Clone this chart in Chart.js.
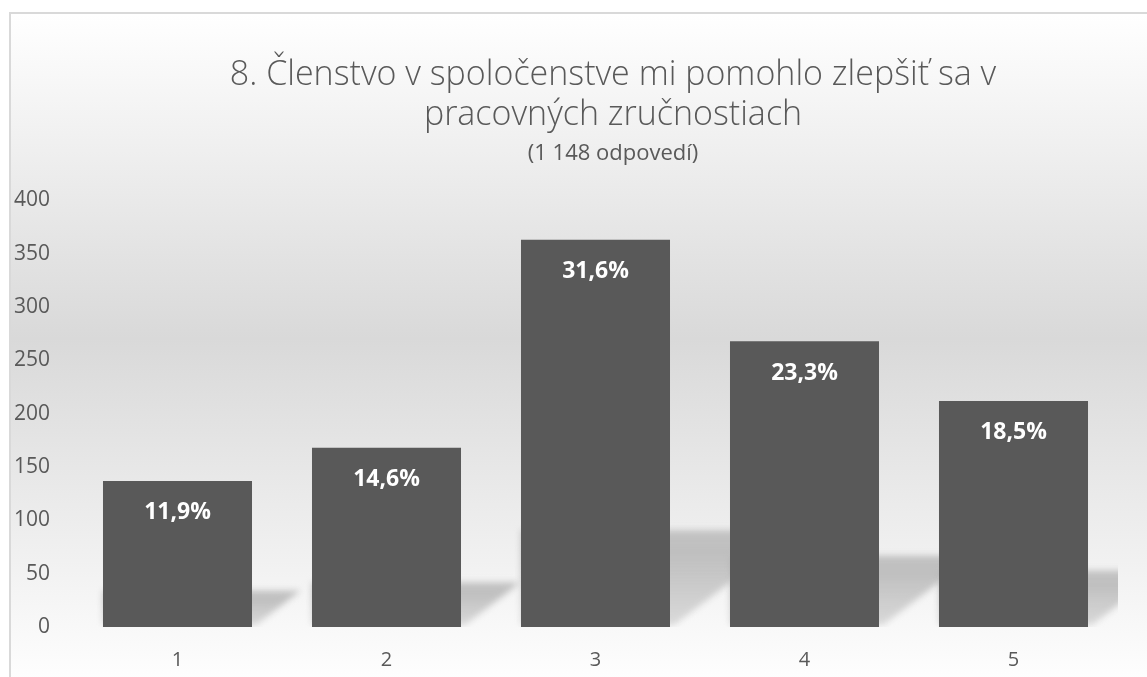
<!DOCTYPE html>
<html>
<head>
<meta charset="utf-8">
<script src="https://cdn.jsdelivr.net/npm/chart.js@4.4.1/dist/chart.umd.min.js"></script>
<style>
  html, body { margin: 0; padding: 0; width: 1147px; height: 677px; overflow: hidden; background: #ffffff; }
  #frame {
    position: absolute; left: 9px; top: 12px; width: 1210px; height: 680px;
    border: 2px solid #d9d9d9; box-sizing: border-box;
    background: linear-gradient(#ffffff 0%, #d9d9d9 48%, #ffffff 100%);
  }
  #c { position: absolute; left: 11px; top: 14px; }
</style>
</head>
<body>
<div id="frame"></div>
<canvas id="c" width="1204" height="663"></canvas>
<script>
const categories = ['1', '2', '3', '4', '5'];
const counts = [137, 168, 363, 268, 212];
const percentLabels = ['11,9%', '14,6%', '31,6%', '23,3%', '18,5%'];
const yTicks = [0, 50, 100, 150, 200, 250, 300, 350, 400];
const titleLines = ['8. Členstvo v spoločenstve mi pomohlo zlepšiť sa v', 'pracovných zručnostiach'];
const subtitleText = '(1 148 odpovedí)';

const FONT = "'Open Sans', 'DejaVu Sans', sans-serif";

const shadowPlugin = {
  id: 'barShadows',
  beforeDatasetsDraw(chart) {
    const ctx = chart.ctx;
    const area = chart.chartArea;
    const meta = chart.getDatasetMeta(0);
    ctx.save();
    ctx.beginPath();
    ctx.rect(area.left, area.top, area.right - area.left, area.bottom - area.top);
    ctx.clip();
    ctx.filter = 'blur(3px)';
    meta.data.forEach(bar => {
      const half = bar.width / 2;
      const left = bar.x - half, right = bar.x + half;
      const base = bar.base;
      const h = base - bar.y;
      const sh = 0.25 * h;
      const sx = sh / 0.75;
      const g = ctx.createLinearGradient(0, base - sh, 0, base);
      g.addColorStop(0, 'rgba(180,180,180,0.75)');
      g.addColorStop(0.25, 'rgba(185,185,185,0.9)');
      g.addColorStop(1, 'rgba(205,205,205,0.7)');
      ctx.fillStyle = g;
      ctx.beginPath();
      ctx.moveTo(left, base - sh);
      ctx.lineTo(right + sx, base - sh);
      ctx.lineTo(right + 4, base - 2);
      ctx.lineTo(left, base - 2);
      ctx.closePath();
      ctx.fill();
    });
    ctx.restore();
  }
};

const labelPlugin = {
  id: 'barLabels',
  afterDatasetsDraw(chart) {
    const ctx = chart.ctx;
    const meta = chart.getDatasetMeta(0);
    ctx.save();
    ctx.fillStyle = '#ffffff';
    ctx.font = "bold 23px " + FONT;
    ctx.textAlign = 'center';
    ctx.textBaseline = 'middle';
    meta.data.forEach((bar, i) => {
      ctx.fillText(percentLabels[i], bar.x, bar.y + 32);
    });
    ctx.restore();
  }
};

new Chart(document.getElementById('c'), {
  type: 'bar',
  data: {
    labels: categories,
    datasets: [{
      data: counts,
      backgroundColor: '#595959',
      borderWidth: 0,
      categoryPercentage: 0.713,
      barPercentage: 1.0
    }]
  },
  options: {
    responsive: false,
    animation: false,
    layout: { padding: { left: 0, right: 0, top: 0, bottom: 0 } },
    plugins: {
      legend: { display: false },
      tooltip: { enabled: false },
      title: {
        display: true,
        text: titleLines,
        color: '#595959',
        font: { family: FONT, size: 34, weight: '300', lineHeight: 1.176 },
        padding: { top: 41, bottom: 6 }
      },
      subtitle: {
        display: true,
        text: subtitleText,
        color: '#595959',
        font: { family: FONT, size: 22, weight: '400', lineHeight: 1.2 },
        padding: { top: 0, bottom: 33 }
      }
    },
    scales: {
      x: {
        grid: { display: false },
        border: { display: false },
        afterFit(scale) { scale.height = 50; },
        ticks: { color: '#595959', font: { family: FONT, size: 20 }, padding: 13 }
      },
      y: {
        min: 0, max: 400,
        afterBuildTicks(scale) { scale.ticks = yTicks.map(v => ({ value: v })); },
        afterFit(scale) { scale.width = 62; },
        grid: { display: false },
        border: { display: false },
        ticks: { color: '#595959', font: { family: FONT, size: 21 }, padding: 15 }
      },
      spacer: {
        type: 'linear',
        position: 'right',
        display: true,
        grid: { display: false },
        border: { display: false },
        ticks: { display: false },
        afterFit(scale) { scale.width = 97; }
      }
    }
  },
  plugins: [shadowPlugin, labelPlugin]
});
</script>
</body>
</html>
